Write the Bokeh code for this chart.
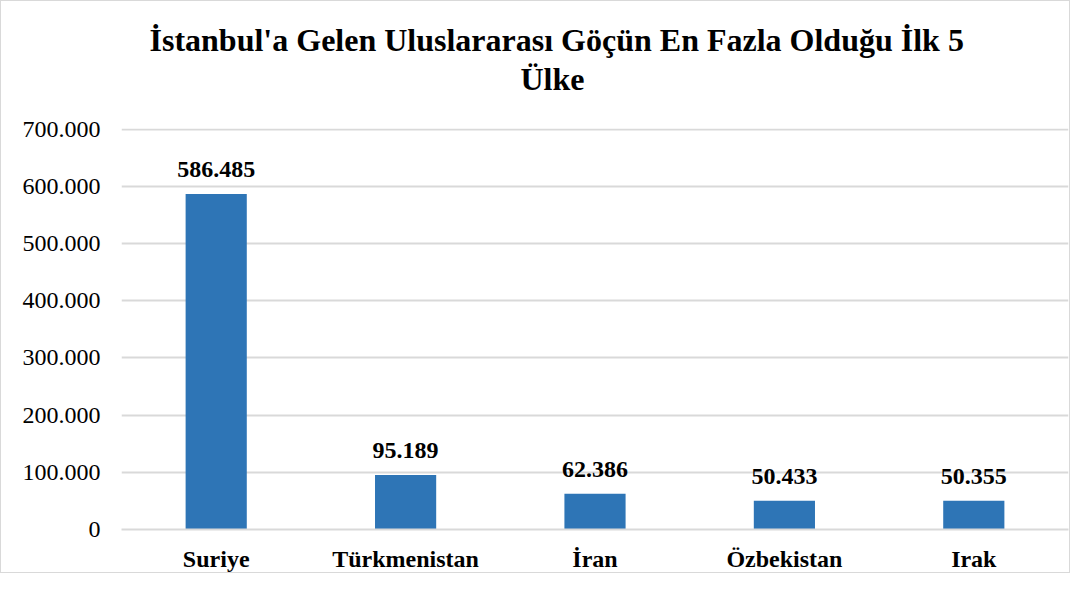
from bokeh.plotting import figure
from bokeh.models import ColumnDataSource, LabelSet, Title, CustomJSTickFormatter, FixedTicker
from bokeh.embed import file_html
from bokeh.resources import INLINE

countries = ["Suriye", "Türkmenistan", "İran", "Özbekistan", "Irak"]
values = [586485, 95189, 62386, 50433, 50355]
labels = ["586.485", "95.189", "62.386", "50.433", "50.355"]
y_ticks = [0, 100000, 200000, 300000, 400000, 500000, 600000, 700000]
title_line1 = "İstanbul'a Gelen Uluslararası Göçün En Fazla Olduğu İlk 5"
title_line2 = "Ülke"

src = ColumnDataSource(dict(x=countries, top=values, lab=labels))

p = figure(x_range=countries, y_range=(0, 701000), width=1070, height=573,
           output_backend="svg", toolbar_location=None,
           min_border_left=120, min_border_right=3, min_border_bottom=38, min_border_top=127)

p.vbar(x="x", top="top", width=0.323, source=src, color="#2E75B6", line_color=None)

ls = LabelSet(x="x", y="top", text="lab", source=src, text_align="center",
              text_baseline="alphabetic", y_offset=17, text_font="Liberation Serif",
              text_font_size="24px", text_font_style="bold", text_color="black")
p.add_layout(ls)

tstyle = dict(align="left", text_font="Liberation Serif", text_font_size="32px",
              text_font_style="bold", text_color="black")
# panels stack outward from the plot area
p.add_layout(Title(text=" ", text_font_size="26px", standoff=0), "above")   # spacer
p.add_layout(Title(text=title_line2, offset=399, standoff=0, **tstyle), "above")
p.add_layout(Title(text=title_line1, offset=28, standoff=2, **tstyle), "above")

p.yaxis.ticker = FixedTicker(ticks=y_ticks)
p.yaxis.formatter = CustomJSTickFormatter(code="""
return String(Math.round(tick)).replace(/\\B(?=(\\d{3})+(?!\\d))/g, '.');
""")
p.yaxis.axis_line_color = None
p.yaxis.major_tick_line_color = None
p.yaxis.minor_tick_line_color = None
p.yaxis.major_label_text_font = "Liberation Serif"
p.yaxis.major_label_text_font_size = "24px"
p.yaxis.major_label_text_color = "black"
p.yaxis.major_label_standoff = 15

p.xaxis.axis_line_color = "#D9D9D9"
p.xaxis.axis_line_width = 2
p.xaxis.major_tick_line_color = None
p.xaxis.minor_tick_line_color = None
p.xaxis.major_label_text_font = "Liberation Serif"
p.xaxis.major_label_text_font_size = "24px"
p.xaxis.major_label_text_font_style = "bold"
p.xaxis.major_label_text_color = "black"
p.xaxis.major_label_standoff = 10

p.xgrid.grid_line_color = None
p.ygrid.grid_line_color = "#D9D9D9"
p.ygrid.grid_line_width = 2
p.outline_line_color = None
p.x_range.range_padding = 0
p.styles = {"border": "1px solid #D9D9D9"}

open("out.html", "w").write(file_html(p, INLINE))
